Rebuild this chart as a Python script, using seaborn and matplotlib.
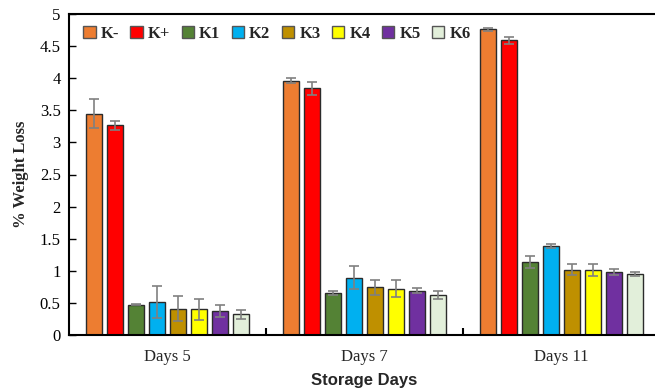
import matplotlib
matplotlib.use("Agg")
import matplotlib.pyplot as plt
import seaborn as sns
import pandas as pd
import numpy as np

# Storage days and treatments
days = ["Days 5", "Days 7", "Days 11"]
treatments = ["K-", "K+", "K1", "K2", "K3", "K4", "K5", "K6"]

# Mean % weight loss per treatment (Days 5, Days 7, Days 11)
k_minus = [3.45, 3.96, 4.76]
k_plus = [3.27, 3.84, 4.59]
k1 = [0.47, 0.65, 1.14]
k2 = [0.52, 0.89, 1.39]
k3 = [0.41, 0.74, 1.02]
k4 = [0.40, 0.72, 1.01]
k5 = [0.37, 0.69, 0.98]
k6 = [0.32, 0.62, 0.95]

# Standard deviations
k_minus_sd = [0.22, 0.04, 0.02]
k_plus_sd = [0.07, 0.10, 0.05]
k1_sd = [0.01, 0.03, 0.09]
k2_sd = [0.25, 0.18, 0.03]
k3_sd = [0.19, 0.12, 0.08]
k4_sd = [0.16, 0.13, 0.09]
k5_sd = [0.09, 0.04, 0.05]
k6_sd = [0.07, 0.06, 0.03]

colors = ["#ED7D31", "#FF0000", "#548235", "#00B0F0",
          "#BF9000", "#FFFF00", "#7030A0", "#E2EFDA"]

means = [k_minus, k_plus, k1, k2, k3, k4, k5, k6]
sds = [k_minus_sd, k_plus_sd, k1_sd, k2_sd, k3_sd, k4_sd, k5_sd, k6_sd]

rows = []
for t, m, s in zip(treatments, means, sds):
    for d, v, e in zip(days, m, s):
        rows.append({"Day": d, "Treatment": t, "Loss": v, "SD": e})
df = pd.DataFrame(rows)

sns.set_theme(style="white")
plt.rcParams["font.family"] = ["Liberation Serif", "DejaVu Serif"]

fig = plt.figure(figsize=(6.55, 3.91), dpi=100)
ax = fig.add_axes([69 / 655, 1 - 335 / 391, 591 / 655, 321 / 391])

sns.barplot(data=df, x="Day", y="Loss", hue="Treatment", order=days,
            hue_order=treatments, palette=colors, saturation=1,
            width=0.853, gap=0.21, errorbar=None, edgecolor="#2b2b2b",
            linewidth=1.0, ax=ax, legend=False)

# error bars from SD arrays, placed on each bar
for cont, sd in zip(ax.containers, sds):
    xs = [b.get_x() + b.get_width() / 2 for b in cont]
    hs = [b.get_height() for b in cont]
    ax.errorbar(xs, hs, yerr=sd, fmt="none", ecolor="#808080",
                elinewidth=1.2, capsize=3.5, capthick=1.2, zorder=5)

ax.set_xlim(-0.5, 2.5)
ax.set_ylim(0, 5)
ax.set_yticks(np.arange(0, 5.01, 0.5))
ax.set_yticklabels(["0", "0.5", "1", "1.5", "2", "2.5", "3", "3.5", "4", "4.5", "5"])
ax.tick_params(axis="y", direction="in", length=5, width=1, labelsize=12,
               pad=6, left=True, colors="black")
ax.tick_params(axis="x", length=0, labelsize=12, pad=10)
ax.set_xticks([0.5, 1.5], minor=True)
ax.tick_params(axis="x", which="minor", direction="in", length=5, width=1.5,
               bottom=True, color="black")

for side in ["left", "bottom", "top", "right"]:
    ax.spines[side].set_color("black")
    ax.spines[side].set_linewidth(1.5)

ax.set_ylabel("% Weight Loss", fontsize=12, fontweight="bold", labelpad=8)
ax.set_xlabel("Storage Days", fontsize=12, fontweight="bold",
              family="Liberation Sans", labelpad=6)

handles = [cont[0] for cont in ax.containers]
leg = ax.legend(handles, treatments, ncol=8, loc="upper left",
                bbox_to_anchor=(0.007, 0.995), frameon=False,
                prop={"family": "Liberation Serif", "weight": "bold", "size": 12},
                handlelength=0.75, handleheight=0.75, handletextpad=0.3,
                columnspacing=0.68, borderaxespad=0.2)
for h in leg.legend_handles:
    h.set_edgecolor("#555555")

fig.savefig("out.png", dpi=100)
